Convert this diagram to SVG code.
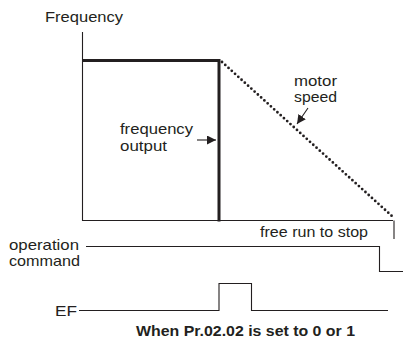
<svg xmlns="http://www.w3.org/2000/svg" width="405" height="341" viewBox="0 0 405 341">
<style>
text{font-family:"Liberation Sans",Arial,sans-serif;font-size:15.5px;fill:#231f20}
.s{font-size:14.5px}
.b{font-weight:bold;font-size:15px}
.thin{fill:none;stroke:#231f20;stroke-width:1.1}
.thick{fill:none;stroke:#231f20;stroke-width:3}
.dot{fill:none;stroke:#231f20;stroke-width:2.8;stroke-linecap:round;stroke-dasharray:0 4.4}
</style>
<defs>
<marker id="ah" viewBox="0 0 10 10" refX="10" refY="5" markerWidth="9" markerHeight="9" markerUnits="userSpaceOnUse" orient="auto">
<path d="M0,0 L10,5 L0,10 Z" fill="#231f20"/>
</marker>
</defs>
<g id="axes">
<path class="thin" d="M82.5,32 V220.5 H393"/>
<text x="45" y="22" textLength="78" lengthAdjust="spacingAndGlyphs">Frequency</text>
</g>
<g id="frequency-output">
<path class="thick" d="M82.5,60.5 H219 V221.5"/>
<text x="120" y="133.5" textLength="73" lengthAdjust="spacingAndGlyphs">frequency</text>
<text x="120" y="150.5" textLength="47" lengthAdjust="spacingAndGlyphs">output</text>
</g>
<g id="motor-speed">
<path class="dot" d="M222,62 L393,217"/>
<text class="s" x="294" y="85.5" textLength="43" lengthAdjust="spacingAndGlyphs">motor</text>
<text class="s" x="294" y="101.5" textLength="43" lengthAdjust="spacingAndGlyphs">speed</text>
</g>
<g id="free-run">
<path class="thin" d="M394,220.5 V239"/>
<text x="260" y="236.5" textLength="108" lengthAdjust="spacingAndGlyphs">free run to stop</text>
</g>
<g id="operation-command">
<text class="s" x="9" y="249.5" textLength="70" lengthAdjust="spacingAndGlyphs">operation</text>
<text class="s" x="9" y="265.5" textLength="71" lengthAdjust="spacingAndGlyphs">command</text>
<path class="thin" d="M86,246.5 H379.5 V271.5 H403"/>
</g>
<g id="EF">
<text x="55" y="316" textLength="22" lengthAdjust="spacingAndGlyphs">EF</text>
<path class="thin" d="M79,310.5 H219 V283.5 H251.5 V310.5 H388"/>
</g>
<g id="connectors">
<path class="thin" d="M197,140 H216" marker-end="url(#ah)"/>
<path class="thin" d="M308,108 L297,124" marker-end="url(#ah)"/>
</g>
<text class="b" x="136" y="336" textLength="219" lengthAdjust="spacingAndGlyphs">When Pr.02.02 is set to 0 or 1</text>
</svg>
